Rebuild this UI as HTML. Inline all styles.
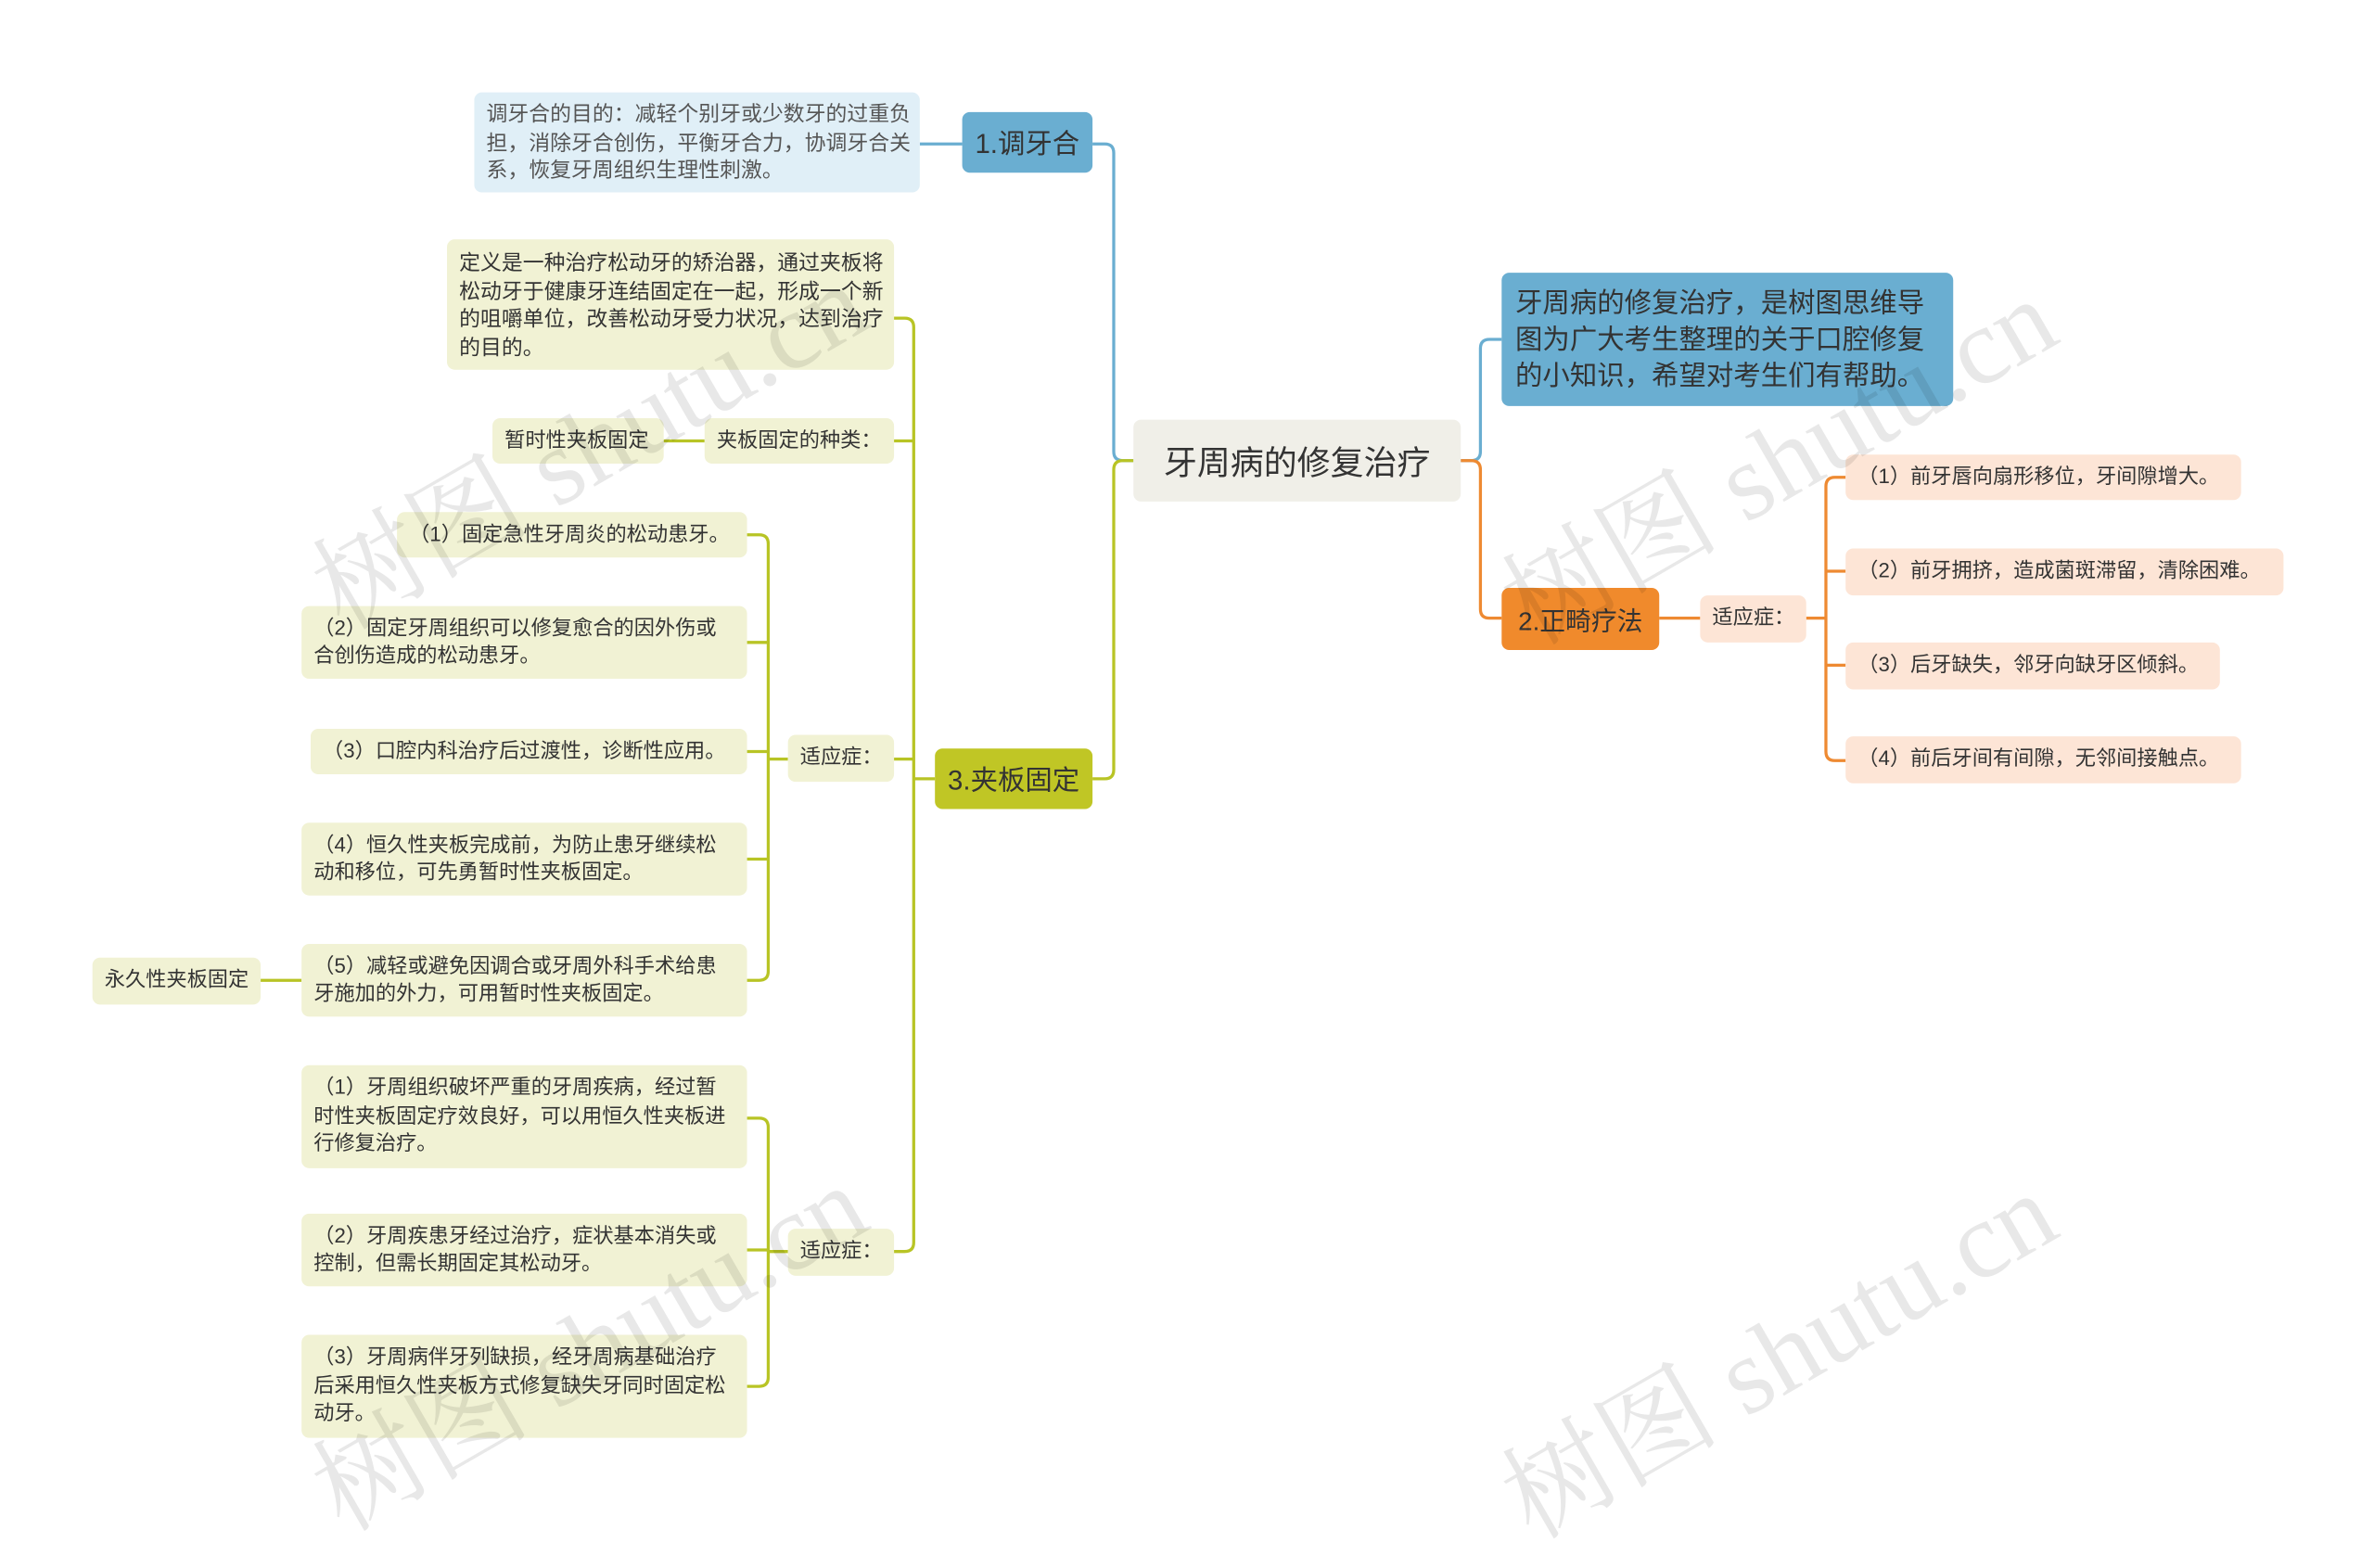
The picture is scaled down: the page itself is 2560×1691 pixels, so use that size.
<!DOCTYPE html>
<html><head><meta charset="utf-8"><style>
html,body{margin:0;padding:0;background:#fff;}
body{width:2560px;height:1649px;overflow:hidden;position:relative;}
#c{position:absolute;left:0;top:0;width:1570px;height:1010px;transform:scale(1.634);transform-origin:0 0;font-family:"Liberation Sans","Noto Sans CJK SC",sans-serif;}
.n{position:absolute;box-sizing:border-box;border-radius:5px;color:#333;display:flex;align-items:center;white-space:nowrap;}
.l{font-size:13.6px;line-height:18.5px;padding:0 8px;}
.y{background:#f1f2d4;}
.o{background:#fde5d6;}
.wm{position:absolute;font-family:"Liberation Serif","Noto Serif CJK SC",serif;font-size:72px;color:rgba(0,0,0,0.09);transform:rotate(-30deg);transform-origin:0 0;white-space:nowrap;}
</style></head><body><div id="c">
<svg width="1570" height="1010" style="position:absolute;left:0;top:0" fill="none" stroke-width="2">
<g stroke="#6aaed1">
<path d="M748,304 H741 Q735,304 735,298 V101 Q735,95 729,95 H721"/>
<path d="M607,95 H635"/>
<path d="M964,304 H971 Q977,304 977,298 V230 Q977,224 983,224 H991"/>
</g>
<g stroke="#b8c425">
<path d="M748,304 H741 Q735,304 735,310 V508 Q735,514 729,514 H721"/>
<path d="M590,210 H597 Q603,210 603,216 V820 Q603,826 597,826 H590"/>
<path d="M590,291 H603 M590,501 H603 M603,514 H617 M438,291 H465"/>
<path d="M493,353 H501 Q507,353 507,359 V641 Q507,647 501,647 H493"/>
<path d="M493,424 H507 M493,496 H507 M493,567 H507 M507,501 H520"/>
<path d="M493,738 H501 Q507,738 507,744 V909 Q507,915 501,915 H493"/>
<path d="M493,825 H507 M507,826 H520 M172,647 H199"/>
</g>
<g stroke="#ee8a32">
<path d="M964,304 H971 Q977,304 977,310 V402 Q977,408 983,408 H991"/>
<path d="M1095,408 H1122 M1192,408 H1205"/>
<path d="M1218,315 H1211 Q1205,315 1205,321 V496 Q1205,502 1211,502 H1218"/>
<path d="M1205,377 H1218 M1205,439 H1218"/>
</g>
</svg>

<div class="n" style="left:748px;top:277px;width:216px;height:54px;background:#f0efe8;font-size:22px;justify-content:center;">牙周病的修复治疗</div>

<div class="n" style="left:635px;top:74px;width:86px;height:40px;background:#6aaed1;font-size:18px;justify-content:center;">1.调牙合</div>
<div class="n l" style="left:313px;top:61px;width:294px;height:66px;background:#e0eff7;color:#555;font-size:14px;">调牙合的目的：减轻个别牙或少数牙的过重负<br>担，消除牙合创伤，平衡牙合力，协调牙合关<br>系，恢复牙周组织生理性刺激。</div>

<div class="n" style="left:617px;top:494px;width:104px;height:40px;background:#c0c625;font-size:18px;justify-content:center;">3.夹板固定</div>
<div class="n l y" style="left:295px;top:158px;width:295px;height:86px;font-size:14px;">定义是一种治疗松动牙的矫治器，通过夹板将<br>松动牙于健康牙连结固定在一起，形成一个新<br>的咀嚼单位，改善松动牙受力状况，达到治疗<br>的目的。</div>
<div class="n l y" style="left:465px;top:276px;width:125px;height:30px;">夹板固定的种类：</div>
<div class="n l y" style="left:325px;top:276px;width:113px;height:30px;">暂时性夹板固定</div>
<div class="n l y" style="left:520px;top:485px;width:70px;height:31px;">适应症：</div>
<div class="n l y" style="left:520px;top:811px;width:70px;height:31px;">适应症：</div>
<div class="n l y" style="left:262px;top:338px;width:231px;height:30px;">（1）固定急性牙周炎的松动患牙。</div>
<div class="n l y" style="left:199px;top:400px;width:294px;height:48px;">（2）固定牙周组织可以修复愈合的因外伤或<br>合创伤造成的松动患牙。</div>
<div class="n l y" style="left:205px;top:481px;width:288px;height:30px;">（3）口腔内科治疗后过渡性，诊断性应用。</div>
<div class="n l y" style="left:199px;top:543px;width:294px;height:48px;">（4）恒久性夹板完成前，为防止患牙继续松<br>动和移位，可先勇暂时性夹板固定。</div>
<div class="n l y" style="left:199px;top:623px;width:294px;height:48px;">（5）减轻或避免因调合或牙周外科手术给患<br>牙施加的外力，可用暂时性夹板固定。</div>
<div class="n l y" style="left:61px;top:632px;width:111px;height:31px;">永久性夹板固定</div>
<div class="n l y" style="left:199px;top:703px;width:294px;height:68px;">（1）牙周组织破坏严重的牙周疾病，经过暂<br>时性夹板固定疗效良好，可以用恒久性夹板进<br>行修复治疗。</div>
<div class="n l y" style="left:199px;top:801px;width:294px;height:48px;">（2）牙周疾患牙经过治疗，症状基本消失或<br>控制，但需长期固定其松动牙。</div>
<div class="n l y" style="left:199px;top:881px;width:294px;height:68px;">（3）牙周病伴牙列缺损，经牙周病基础治疗<br>后采用恒久性夹板方式修复缺失牙同时固定松<br>动牙。</div>

<div class="n" style="left:991px;top:180px;width:298px;height:88px;background:#6aaed1;font-size:18px;line-height:24px;padding:0 9px;">牙周病的修复治疗，是树图思维导<br>图为广大考生整理的关于口腔修复<br>的小知识，希望对考生们有帮助。</div>
<div class="n" style="left:991px;top:388px;width:104px;height:41px;background:#f08a2c;font-size:17px;justify-content:center;">2.正畸疗法</div>
<div class="n l o" style="left:1122px;top:393px;width:70px;height:31px;">适应症：</div>
<div class="n l o" style="left:1218px;top:300px;width:261px;height:30px;">（1）前牙唇向扇形移位，牙间隙增大。</div>
<div class="n l o" style="left:1218px;top:362px;width:289px;height:31px;">（2）前牙拥挤，造成菌斑滞留，清除困难。</div>
<div class="n l o" style="left:1218px;top:424px;width:247px;height:31px;">（3）后牙缺失，邻牙向缺牙区倾斜。</div>
<div class="n l o" style="left:1218px;top:486px;width:261px;height:31px;">（4）前后牙间有间隙，无邻间接触点。</div>

<div class="wm" style="left:185px;top:345px;">树图 shutu.cn</div>
<div class="wm" style="left:970px;top:355px;">树图 shutu.cn</div>
<div class="wm" style="left:185px;top:940px;">树图 shutu.cn</div>
<div class="wm" style="left:970px;top:945px;">树图 shutu.cn</div>
</div></body></html>
